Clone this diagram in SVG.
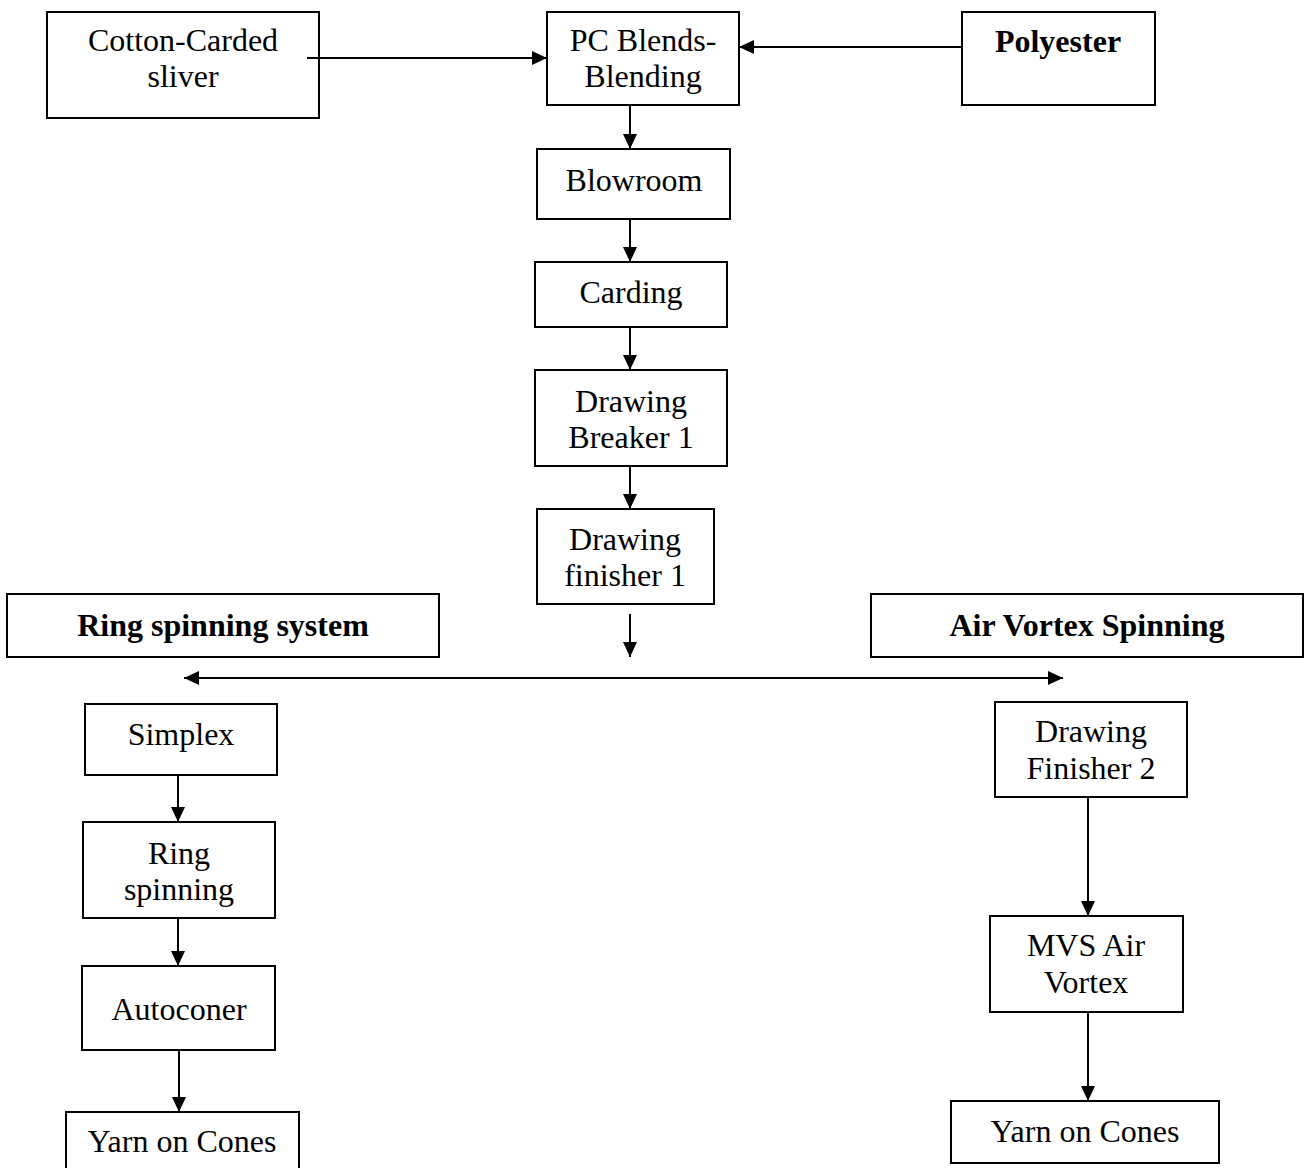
<svg xmlns="http://www.w3.org/2000/svg" width="1304" height="1168" viewBox="0 0 1304 1168">
<style>
.box{fill:#fff;stroke:#000;stroke-width:2}
.t{font-family:"Liberation Serif","Times New Roman",serif;font-size:32px;text-anchor:middle;fill:#000}
.b{font-weight:bold}
.c{stroke:#000;stroke-width:2;fill:none}
</style>
<defs>
<marker id="ah" viewBox="0 0 15 14" refX="15" refY="7" markerWidth="15" markerHeight="14" markerUnits="userSpaceOnUse" orient="auto-start-reverse">
<path d="M0,0 L15,7 L0,14 z" fill="#000"/>
</marker>
</defs>
<rect width="1304" height="1168" fill="#fff"/>
<g id="cotton"><rect class="box" x="47" y="12" width="272" height="106"/><text class="t" x="183" y="51">Cotton-Carded</text><text class="t" x="183" y="87">sliver</text></g>
<g id="pcblends"><rect class="box" x="547" y="12" width="192" height="93"/><text class="t" x="643" y="51">PC Blends-</text><text class="t" x="643" y="87">Blending</text></g>
<g id="polyester"><rect class="box" x="962" y="12" width="193" height="93"/><text class="t b" x="1058" y="52">Polyester</text></g>
<g id="blowroom"><rect class="box" x="537" y="149" width="193" height="70"/><text class="t" x="634" y="191">Blowroom</text></g>
<g id="carding"><rect class="box" x="535" y="262" width="192" height="65"/><text class="t" x="631" y="303">Carding</text></g>
<g id="breaker"><rect class="box" x="535" y="370" width="192" height="96"/><text class="t" x="631" y="412">Drawing</text><text class="t" x="631" y="448">Breaker 1</text></g>
<g id="finisher1"><rect class="box" x="537" y="509" width="177" height="95"/><text class="t" x="625" y="550">Drawing</text><text class="t" x="625" y="586">finisher 1</text></g>
<g id="ringsystem"><rect class="box" x="7" y="594" width="432" height="63"/><text class="t b" x="223" y="636">Ring spinning system</text></g>
<g id="airvortex"><rect class="box" x="871" y="594" width="432" height="63"/><text class="t b" x="1087" y="636">Air Vortex Spinning</text></g>
<g id="simplex"><rect class="box" x="85" y="704" width="192" height="71"/><text class="t" x="181" y="745">Simplex</text></g>
<g id="ringspinning"><rect class="box" x="83" y="822" width="192" height="96"/><text class="t" x="179" y="864">Ring</text><text class="t" x="179" y="900">spinning</text></g>
<g id="autoconer"><rect class="box" x="82" y="966" width="193" height="84"/><text class="t" x="179" y="1020">Autoconer</text></g>
<g id="yarnleft"><rect class="box" x="66" y="1112" width="233" height="60"/><text class="t" x="182" y="1152">Yarn on Cones</text></g>
<g id="finisher2"><rect class="box" x="995" y="702" width="192" height="95"/><text class="t" x="1091" y="742">Drawing</text><text class="t" x="1091" y="779">Finisher 2</text></g>
<g id="mvs"><rect class="box" x="990" y="916" width="193" height="96"/><text class="t" x="1086" y="956">MVS Air</text><text class="t" x="1086" y="993">Vortex</text></g>
<g id="yarnright"><rect class="box" x="951" y="1101" width="268" height="62"/><text class="t" x="1085" y="1142">Yarn on Cones</text></g>
<g id="connectors">
<line class="c" x1="307" y1="58" x2="547" y2="58" marker-end="url(#ah)"/>
<line class="c" x1="962" y1="47" x2="739" y2="47" marker-end="url(#ah)"/>
<line class="c" x1="630" y1="105" x2="630" y2="149" marker-end="url(#ah)"/>
<line class="c" x1="630" y1="219" x2="630" y2="262" marker-end="url(#ah)"/>
<line class="c" x1="630" y1="327" x2="630" y2="370" marker-end="url(#ah)"/>
<line class="c" x1="630" y1="466" x2="630" y2="509" marker-end="url(#ah)"/>
<line class="c" x1="630" y1="614" x2="630" y2="657" marker-end="url(#ah)"/>
<line class="c" x1="184" y1="678" x2="1063" y2="678" marker-start="url(#ah)" marker-end="url(#ah)"/>
<line class="c" x1="178" y1="775" x2="178" y2="822" marker-end="url(#ah)"/>
<line class="c" x1="178" y1="918" x2="178" y2="966" marker-end="url(#ah)"/>
<line class="c" x1="179" y1="1050" x2="179" y2="1112" marker-end="url(#ah)"/>
<line class="c" x1="1088" y1="797" x2="1088" y2="916" marker-end="url(#ah)"/>
<line class="c" x1="1088" y1="1012" x2="1088" y2="1101" marker-end="url(#ah)"/>
</g>
</svg>
